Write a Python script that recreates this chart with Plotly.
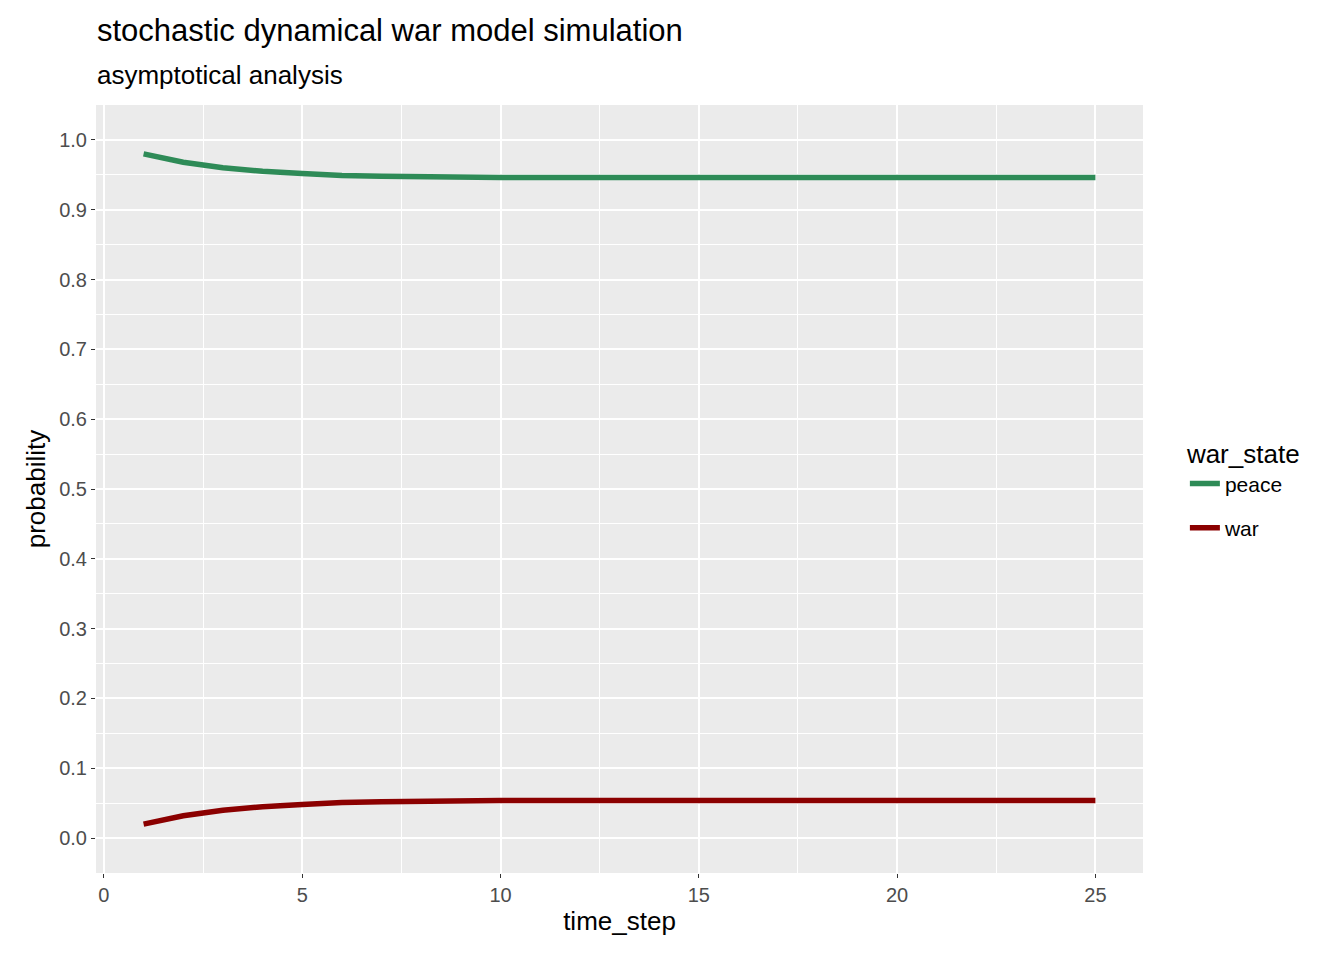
import plotly.graph_objects as go

time_step = list(range(1, 26))
peace = [0.980, 0.968, 0.960, 0.955, 0.952, 0.949, 0.948, 0.947, 0.9465] + [0.946] * 16
war = [round(1 - p, 4) for p in peace]
series = [("peace", peace, "#2E8B57"), ("war", war, "#8B0000")]

fig = go.Figure()
for name, vals, col in series:
    fig.add_trace(go.Scatter(x=time_step, y=vals, mode="lines", name=name, legendgroup=name,
                             line=dict(color=col, width=5.5)))

font = "Liberation Sans, Arial, sans-serif"
fig.update_layout(
    width=1344, height=960,
    paper_bgcolor="white", plot_bgcolor="#EBEBEB",
    margin=dict(l=88, r=209, t=97, b=95),
    font=dict(family=font, color="black"),
    legend=dict(title=dict(text="war_state", font=dict(size=26)), font=dict(size=21),
                x=1.04, xanchor="left", y=0.5, yanchor="middle", bgcolor="white",
                tracegroupgap=14),
    annotations=[
        dict(text="stochastic dynamical war model simulation", xref="paper", yref="paper",
             x=-0.001, y=1 + 75/768, xanchor="left", yanchor="middle", showarrow=False,
             font=dict(size=31)),
        dict(text="asymptotical analysis", xref="paper", yref="paper",
             x=-0.001, y=1 + 30/768, xanchor="left", yanchor="middle", showarrow=False,
             font=dict(size=26)),
    ],
    xaxis=dict(range=[-0.2, 26.2], tick0=0, dtick=5, showgrid=True, gridcolor="white", gridwidth=1.6,
               minor=dict(dtick=2.5, tick0=0, showgrid=True, gridcolor="white", gridwidth=0.7),
               zeroline=False, ticks="outside", ticklen=4, tickcolor="#333333",
               tickfont=dict(size=20, color="#4D4D4D"),
               title=dict(text="time_step", font=dict(size=26), standoff=6)),
    yaxis=dict(range=[-0.05, 1.05], tick0=0, dtick=0.1, tickformat=".1f", showgrid=True,
               gridcolor="white", gridwidth=1.6,
               minor=dict(dtick=0.05, tick0=0, showgrid=True, gridcolor="white", gridwidth=0.7),
               zeroline=False, ticks="outside", ticklen=4, tickcolor="#333333",
               tickfont=dict(size=20, color="#4D4D4D"),
               title=dict(text="probability", font=dict(size=26), standoff=6)),
)
fig.write_html("out.html")
